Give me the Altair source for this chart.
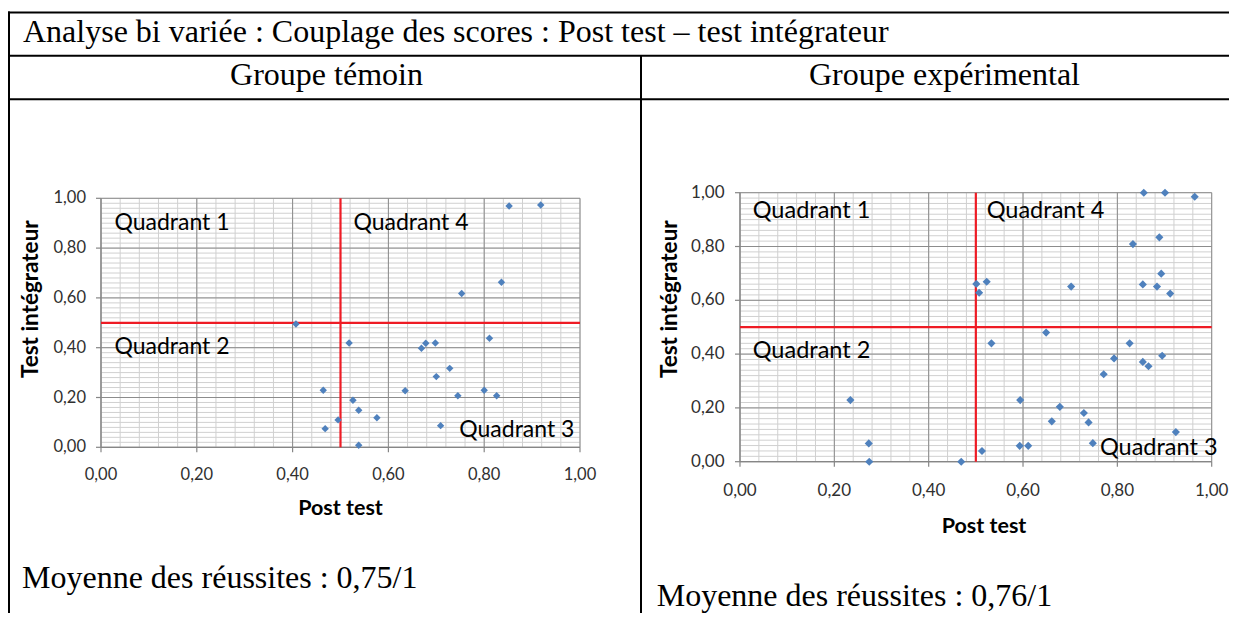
import altair as alt
import pandas as pd

# ---------------- texts ----------------
TITLE = "Analyse bi variée : Couplage des scores : Post test – test intégrateur"
HEAD_1 = "Groupe témoin"
HEAD_2 = "Groupe expérimental"
FOOT_1 = "Moyenne des réussites : 0,75/1"
FOOT_2 = "Moyenne des réussites : 0,76/1"
X_TITLE = "Post test"
Y_TITLE = "Test intégrateur"
QUAD_LABELS = ["Quadrant  1", "Quadrant 2", "Quadrant 3", "Quadrant 4"]

# ---------------- data : groupe témoin ----------------
temoin_post = [0.852, 0.918, 0.836, 0.753, 0.518, 0.669, 0.678, 0.698, 0.811, 0.728,
               0.700, 0.464, 0.635, 0.800, 0.745, 0.826, 0.526, 0.538, 0.576, 0.495,
               0.468, 0.709, 0.538, 0.407]
temoin_integ = [0.969, 0.973, 0.663, 0.618, 0.419, 0.398, 0.418, 0.419, 0.438, 0.317,
                0.284, 0.229, 0.227, 0.229, 0.207, 0.207, 0.189, 0.149, 0.119, 0.110,
                0.075, 0.087, 0.008, 0.495]

# ---------------- data : groupe expérimental ----------------
exp_post = [0.856, 0.901, 0.964, 0.889, 0.833, 0.893, 0.523, 0.501, 0.507, 0.702,
            0.854, 0.884, 0.912, 0.649, 0.533, 0.826, 0.793, 0.895, 0.854, 0.866,
            0.771, 0.594, 0.678, 0.729, 0.661, 0.739, 0.924, 0.593, 0.611, 0.748,
            0.513, 0.469, 0.234, 0.273, 0.274]
exp_integ = [1.000, 1.000, 0.985, 0.834, 0.809, 0.699, 0.669, 0.661, 0.628, 0.651,
             0.659, 0.651, 0.625, 0.480, 0.440, 0.440, 0.384, 0.394, 0.371, 0.355,
             0.325, 0.229, 0.204, 0.181, 0.150, 0.146, 0.110, 0.059, 0.059, 0.069,
             0.040, 0.000, 0.229, 0.068, 0.000]

# quadrant label anchors (data units)
quad1_x = [0.028, 0.028, 0.748, 0.527]
quad1_y = [0.873, 0.375, 0.043, 0.873]
quad2_x = [0.027, 0.027, 0.763, 0.523]
quad2_y = [0.905, 0.384, 0.025, 0.905]

# axis ticks and gridlines
TICKS = [0.0, 0.2, 0.4, 0.6, 0.8, 1.0]
TICK_LABELS = ["0,00", "0,20", "0,40", "0,60", "0,80", "1,00"]
X_MINOR = [round(i * 0.04, 2) for i in range(26)]
Y_MINOR = [round(i * 0.02, 2) for i in range(51)]
THRESHOLD = 0.5

W, H = 1221, 605
MINOR_C = "#d0d0d0"
MAJOR_C = "#8c8c8c"
AXIS_C = "#868686"
RED = "#ee1c25"
BLUE = "#4f81bd"
SANS = "Lato"
SERIF = "Liberation Serif"

one = pd.DataFrame({"k": [0]})
ticks_df = pd.DataFrame({"g": TICKS, "lab": TICK_LABELS})


def panel(post, integ, qx, qy, xr, yr, pt_size, lab_size, xpad, ypad,
          xt_pos, yt_pos, quad_size):
    sx = alt.Scale(domain=[0, 1], range=xr, nice=False, zero=False)
    sy = alt.Scale(domain=[0, 1], range=yr, nice=False, zero=False)
    X0 = alt.X(datum=0, scale=sx, axis=None)
    Y0 = alt.Y(datum=0, scale=sy, axis=None)

    minor_v = alt.Chart(pd.DataFrame({"g": X_MINOR})).mark_rule(
        color=MINOR_C, strokeWidth=1).encode(
        x=alt.X("g:Q", scale=sx, axis=None), y=Y0, y2=alt.Y2(datum=1))
    minor_h = alt.Chart(pd.DataFrame({"g": Y_MINOR})).mark_rule(
        color=MINOR_C, strokeWidth=1).encode(
        y=alt.Y("g:Q", scale=sy, axis=None), x=X0, x2=alt.X2(datum=1))
    major_v = alt.Chart(ticks_df).mark_rule(
        color=MAJOR_C, strokeWidth=1).encode(
        x=alt.X("g:Q", scale=sx, axis=None), y=Y0, y2=alt.Y2(datum=1))
    major_h = alt.Chart(ticks_df).mark_rule(
        color=MAJOR_C, strokeWidth=1).encode(
        y=alt.Y("g:Q", scale=sy, axis=None), x=X0, x2=alt.X2(datum=1))

    # axis lines, ticks and labels
    x_dom = alt.Chart(one).mark_rule(color=AXIS_C, strokeWidth=1.2).encode(
        x=X0, x2=alt.X2(datum=1), y=Y0)
    y_dom = alt.Chart(one).mark_rule(color=AXIS_C, strokeWidth=1.2).encode(
        y=Y0, y2=alt.Y2(datum=1), x=X0)
    x_ticks = alt.Chart(ticks_df).mark_rule(
        color=AXIS_C, strokeWidth=1.2, y2Offset=5).encode(
        x=alt.X("g:Q", scale=sx, axis=None), y=Y0, y2=alt.Y2(datum=0))
    y_ticks = alt.Chart(ticks_df).mark_rule(
        color=AXIS_C, strokeWidth=1.2, x2Offset=-5).encode(
        y=alt.Y("g:Q", scale=sy, axis=None), x=X0, x2=alt.X2(datum=0))
    x_labs = alt.Chart(ticks_df).mark_text(
        font=SANS, fontSize=lab_size, color="#303030", align="center",
        baseline="top", dy=5 + xpad).encode(
        x=alt.X("g:Q", scale=sx, axis=None), y=Y0, text="lab:N")
    y_labs = alt.Chart(ticks_df).mark_text(
        font=SANS, fontSize=lab_size, color="#303030", align="right",
        baseline="middle", dx=-(5 + ypad)).encode(
        y=alt.Y("g:Q", scale=sy, axis=None), x=X0, text="lab:N")

    red_v = alt.Chart(one).mark_rule(color=RED, strokeWidth=2.2).encode(
        x=alt.X(datum=THRESHOLD, scale=sx, axis=None), y=Y0, y2=alt.Y2(datum=1))
    red_h = alt.Chart(one).mark_rule(color=RED, strokeWidth=2.2).encode(
        y=alt.Y(datum=THRESHOLD, scale=sy, axis=None), x=X0, x2=alt.X2(datum=1))

    quads = alt.Chart(pd.DataFrame({"qx": qx, "qy": qy, "lab": QUAD_LABELS})).mark_text(
        font=SANS, fontSize=quad_size, align="left", baseline="alphabetic",
        color="#000000").encode(
        x=alt.X("qx:Q", scale=sx, axis=None),
        y=alt.Y("qy:Q", scale=sy, axis=None),
        text="lab:N")

    pts = alt.Chart(pd.DataFrame({"post": post, "integ": integ})).mark_point(
        shape="diamond", filled=True, color=BLUE, size=pt_size, opacity=1).encode(
        x=alt.X("post:Q", scale=sx, axis=None),
        y=alt.Y("integ:Q", scale=sy, axis=None))

    xt = alt.Chart(one).mark_text(
        text=X_TITLE, font=SANS, fontWeight="bold", fontSize=21.5,
        align="center", baseline="alphabetic", color="#000000").encode(
        x=alt.value(xt_pos[0]), y=alt.value(xt_pos[1]))
    yt = alt.Chart(one).mark_text(
        text=Y_TITLE, font=SANS, fontWeight="bold", fontSize=22.5, angle=270,
        align="center", baseline="alphabetic", color="#000000").encode(
        x=alt.value(yt_pos[0]), y=alt.value(yt_pos[1]))

    return alt.layer(minor_v, minor_h, major_v, major_h, x_dom, y_dom,
                     x_ticks, y_ticks, x_labs, y_labs, red_v, red_h,
                     quads, pts, xt, yt)


p1 = panel(temoin_post, temoin_integ, quad1_x, quad1_y,
           xr=[93, 572], yr=[439.3, 190.3], pt_size=55, lab_size=16.5,
           xpad=15, ypad=10, xt_pos=(332.5, 507), yt_pos=(30.3, 291.2),
           quad_size=23)
p2 = panel(exp_post, exp_integ, quad2_x, quad2_y,
           xr=[732, 1203.7], yr=[453.7, 184.7], pt_size=66, lab_size=17,
           xpad=16, ypad=10.5, xt_pos=(976, 525.3), yt_pos=(669.3, 291.2),
           quad_size=23.5)


# ---------------- table frame ----------------
def hline(y):
    return alt.Chart(one).mark_rule(color="#000000", strokeWidth=2).encode(
        x=alt.value(0), x2=alt.value(W), y=alt.value(y))


def vline(x, y0, y1):
    return alt.Chart(one).mark_rule(color="#000000", strokeWidth=2).encode(
        x=alt.value(x), y=alt.value(y0), y2=alt.value(y1))


def label(txt, x, y, align="left"):
    return alt.Chart(one).mark_text(
        text=txt, font=SERIF, fontSize=32, align=align, baseline="alphabetic",
        color="#000000").encode(x=alt.value(x), y=alt.value(y))


frame = [
    hline(4.5), hline(47.7), hline(91.3),
    vline(1, 3.5, H), vline(633, 47.7, H),
    label(TITLE, 15, 33.5),
    label(HEAD_1, 318.5, 77, "center"),
    label(HEAD_2, 936.5, 77, "center"),
    label(FOOT_1, 14, 580.3),
    label(FOOT_2, 648.7, 597.5),
]

chart = alt.layer(*frame, p1, p2).resolve_scale(
    x="independent", y="independent"
).properties(
    width=W, height=H, padding=0,
    autosize=alt.AutoSizeParams(type="none"),
    background="white",
).configure_view(stroke=None)

chart.save("out.html", embed_options={"renderer": "svg", "actions": False})
